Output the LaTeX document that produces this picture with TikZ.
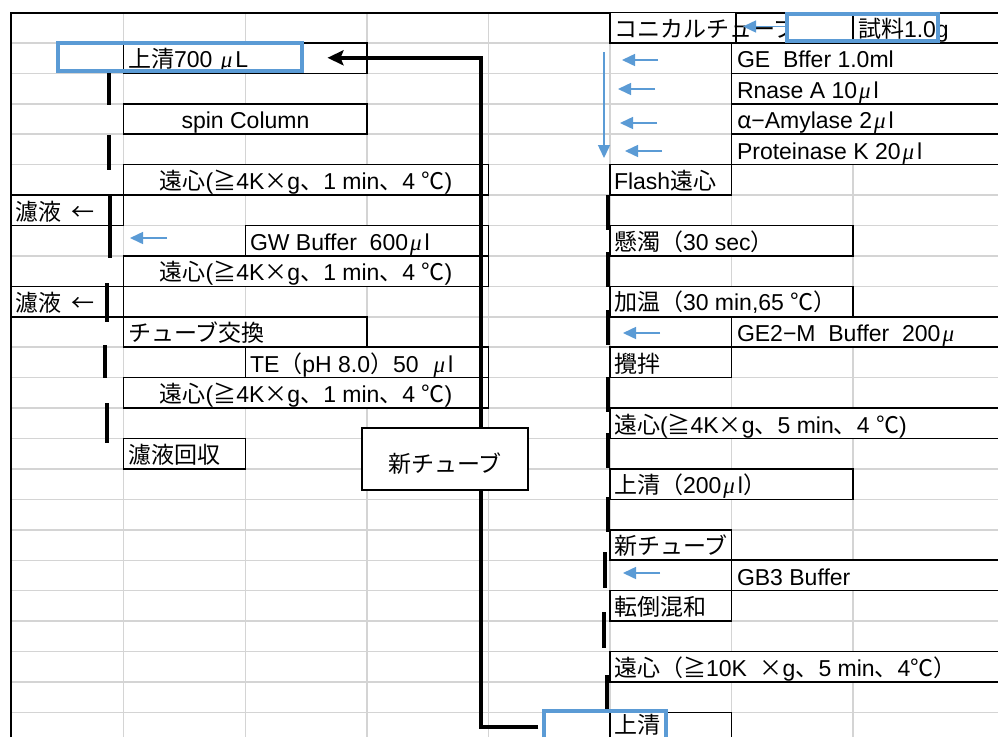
\documentclass[tikz,border=0pt]{standalone}
\usepackage{fontspec}
\setmainfont{Liberation Sans}
\newfontfamily\jp{Noto Sans CJK JP}
\newfontfamily\muf{Liberation Serif}
\newcommand\J[1]{{\jp #1}}
\newcommand\MU{\hspace{2pt}{\muf\itshape μ}\hspace{3pt}}
\usetikzlibrary{arrows.meta}
\definecolor{gridgray}{HTML}{D4D4D4}
\definecolor{xlblue}{HTML}{5B9BD5}
\newcommand\bx[5]{\node[cellbox,minimum width={#4-#2},minimum height={#5-#3}] (#1) at ({(#2+#4)/2},{(#3+#5)/2}) {};}
\newcommand\obx[4]{%
  \fill[white] (#2,#3) rectangle (998,#4);
  \draw[black,line width=1.5pt] (998,#3) -- (#2,#3) -- (#2,#4) -- (998,#4);
  \coordinate (#1) at (#2,{(#3+#4)/2});}
\begin{document}
\begin{tikzpicture}[x=1pt,y=-1pt,
  gridline/.style={draw=gridgray,line width=1.5pt},
  cellbox/.style={draw=black,line width=1.5pt,fill=white,inner sep=0pt,outer sep=0pt},
  txt/.style={inner sep=0pt,outer sep=0pt,font=\fontsize{23}{27}\selectfont},
  bluearrow/.style={draw=xlblue,line width=1.5pt,-{Triangle[length=13pt,width=12pt]}},
  bluerect/.style={draw=xlblue,line width=4pt},
  flowbar/.style={draw=black,line width=4pt},
  connector/.style={draw=black,line width=4pt,-{Stealth[length=16pt,width=15pt,inset=3pt]}},
]
\useasboundingbox (0,0) rectangle (998,737);
\fill[white] (0,0) rectangle (998,737);
% grid
\foreach \r in {1,...,23} \draw[gridline] (11,{12.5+30.43*\r}) -- (998,{12.5+30.43*\r});
\foreach \c in {123.5,245.5,367,488.5,610,731.5,853} \draw[gridline] (\c,12.5) -- (\c,737);
\draw[black,line width=2pt] (11,737) -- (11,12.5) -- (998,12.5);

% main connector ends
\coordinate (start) at (538.3,726.7);
\coordinate (turn) at (481.2,57.8);
\coordinate (tip) at (327.5,57.8);

% left boxes
\bx{b1}{123.5}{42.9}{367}{73.4}
\bx{b3}{123.5}{103.8}{367}{134.2}
\bx{b5}{123.5}{164.7}{488.5}{195.1}
\bx{b6}{11}{195.1}{123.5}{225.5}
\bx{b7}{245.5}{225.5}{488.5}{255.9}
\bx{b8}{123.5}{255.9}{488.5}{286.4}
\bx{b9}{11}{286.4}{123.5}{316.8}
\bx{b10}{123.5}{316.8}{367}{347.2}
\bx{b11}{245.5}{347.2}{488.5}{377.7}
\bx{b12}{123.5}{377.7}{488.5}{408.1}
\bx{b14}{123.5}{438.5}{245.5}{469.0}

% right boxes
\bx{coni}{610}{12.5}{736}{42.9}
\draw[black,line width=1.5pt] (736,42.9) -- (998,42.9);
\obx{ge}{731.5}{42.9}{73.4}
\obx{rn}{731.5}{73.4}{103.8}
\obx{am}{731.5}{103.8}{134.2}
\obx{pk}{731.5}{134.2}{164.7}
\bx{fl}{610}{164.7}{731.5}{195.1}
\bx{kd}{610}{225.5}{853}{255.9}
\bx{ko}{610}{286.4}{853}{316.8}
\obx{ge2}{731.5}{316.8}{347.2}
\bx{kh}{610}{347.2}{731.5}{377.7}
\obx{en2}{610}{408.1}{438.5}
\bx{uw}{610}{469.0}{853}{499.4}
\bx{nt}{610}{529.8}{731.5}{560.2}
\obx{gb}{731.5}{560.2}{590.7}
\bx{tt}{610}{590.7}{731.5}{621.1}
\obx{en3}{610}{651.5}{681.9}
\fill[white] (610,712.4) rectangle (731.5,737);
\draw[black,line width=1.5pt] (610,737) -- (610,712.4) -- (731.5,712.4) -- (731.5,737);
\coordinate (us) at (610,725);

% left texts
\node[txt,anchor=base west] (t1) at (128,67.9) {\J{上清}700\ \MU L};
\node[txt,anchor=base] (t3) at (245.5,128.7) {spin Column};
\node[txt,anchor=base] (t5) at (306,189.6) {\J{遠心}(\J{≧}4K\J{×}g\J{、}1 min\J{、}4 \J{℃})};
\node[txt,anchor=base west] (t6) at (16,220) {\J{濾液}\hspace{10pt}\J{←}};
\node[txt,anchor=base west] (t7) at (250,250.4) {GW Buffer\ \ 600\MU l};
\node[txt,anchor=base] (t8) at (306,280.9) {\J{遠心}(\J{≧}4K\J{×}g\J{、}1 min\J{、}4 \J{℃})};
\node[txt,anchor=base west] (t9) at (16,311.3) {\J{濾液}\hspace{10pt}\J{←}};
\node[txt,anchor=base west] (t10) at (128,341.7) {\J{チューブ交換}};
\node[txt,anchor=base west] (t11) at (250,372.2) {TE\J{（}pH 8.0\J{）}50\ \ \MU l};
\node[txt,anchor=base] (t12) at (306,402.6) {\J{遠心}(\J{≧}4K\J{×}g\J{、}1 min\J{、}4 \J{℃})};
\node[txt,anchor=base west] (t14) at (128,463.5) {\J{濾液回収}};

% right texts
\node[txt,anchor=base west] (r0) at (614,37.4) {\J{コニカルチューブ}};
\node[txt,anchor=base west] (r0b) at (858,37.4) {\J{試料}1.0g};
\node[txt,anchor=base west] (r1) at (737,67.9) {GE\ \ Bffer 1.0ml};
\node[txt,anchor=base west] (r2) at (737,98.3) {Rnase A 10\MU l};
\node[txt,anchor=base west] (r3) at (737,128.7) {\J{α}−Amylase 2\MU l};
\node[txt,anchor=base west] (r4) at (737,159.2) {Proteinase K 20\MU l};
\node[txt,anchor=base west] (r5) at (614,189.6) {Flash\J{遠心}};
\node[txt,anchor=base west] (r7) at (614,250.4) {\J{懸濁（}30 sec\J{）}};
\node[txt,anchor=base west] (r9) at (614,310.9) {\J{加温（}30 min,65 \J{℃）}};
\node[txt,anchor=base west] (r10) at (737,341.7) {GE2−M\ \ Buffer\ \ 200\MU};
\node[txt,anchor=base west] (r11) at (614,372.2) {\J{攪拌}};
\node[txt,anchor=base west] (r13) at (614,433) {\J{遠心}(\J{≧}4K\J{×}g\J{、}5 min\J{、}4 \J{℃})};
\node[txt,anchor=base west] (r15) at (614,493.5) {\J{上清（}200\MU l\J{）}};
\node[txt,anchor=base west] (r17) at (614,554.7) {\J{新チューブ}};
\node[txt,anchor=base west] (r18) at (737,585.2) {GB3 Buffer};
\node[txt,anchor=base west] (r19) at (614,615.6) {\J{転倒混和}};
\node[txt,anchor=base west] (r21) at (614,676.4) {\J{遠心（≧}10K\ \ \J{×}g\J{、}5 min\J{、}4\J{℃）}};
\node[txt,anchor=base west] (r23) at (614,733.5) {\J{上清}};

% top right overlay
\fill[white] (787,15.5) rectangle (853,39.5);
\draw[black,line width=1.5pt] (853,12.5) -- (853,42.9);
\draw[bluearrow] (785,26.5) coordinate (a0s) -- (743,26.5) coordinate (a0e);
\draw[bluerect] (787,13.7) rectangle (938.4,41.3);

% blue arrows
\draw[bluearrow] (658,60) coordinate (a1s) -- (622,60) coordinate (a1e);
\draw[bluearrow] (655,89) coordinate (a2s) -- (618,89) coordinate (a2e);
\draw[bluearrow] (657,123) coordinate (a3s) -- (620,123) coordinate (a3e);
\draw[bluearrow] (662,151) coordinate (a4s) -- (625,151) coordinate (a4e);
\draw[bluearrow] (604,52) coordinate (avs) -- (604,158) coordinate (ave);
\draw[bluearrow] (167,238) coordinate (a7s) -- (130,238) coordinate (a7e);
\draw[bluearrow] (660,333) coordinate (a10s) -- (623,333) coordinate (a10e);
\draw[bluearrow] (660,573) coordinate (a18s) -- (623,573) coordinate (a18e);

% flow bars left
\draw[flowbar] (108.5,70) -- (108.5,105);
\draw[flowbar] (108.5,135) -- (108.5,170);
\draw[flowbar] (110,195) -- (110,258);
\draw[flowbar] (106.5,283) -- (106.5,322);
\draw[flowbar] (104.5,345) -- (104.5,378);
\draw[flowbar] (107,403) -- (107,443);
% flow bars right
\draw[flowbar] (607.5,195) -- (607.5,230);
\draw[flowbar] (608,252) -- (608,287);
\draw[flowbar] (608,310) -- (608,345);
\draw[flowbar] (608,377) -- (608,412);
\draw[flowbar] (608,433) -- (608,468);
\draw[flowbar] (608,497) -- (608,532);
\draw[flowbar] (605,552) -- (605,588);
\draw[flowbar] (604,612) -- (604,648);
\draw[flowbar] (607,675) -- (607,710);

% connector
\draw[connector] (start) -| (turn) -- (tip);

% blue rects
\draw[bluerect] (58,43.3) rectangle (302,71.3);
\draw[bluerect] (544,737) -- (544,710.8) -- (665.5,710.8) -- (665.5,737);
\coordinate (blueB) at (544,726.7);

% text box
\node[draw=black,line width=1.5pt,fill=white,inner sep=0pt,minimum width=166pt,minimum height=62pt] (newtube) at (445,459) {};
\node[txt,anchor=base] (newtubet) at (445,472) {\J{新チューブ}};
\end{tikzpicture}
\end{document}
